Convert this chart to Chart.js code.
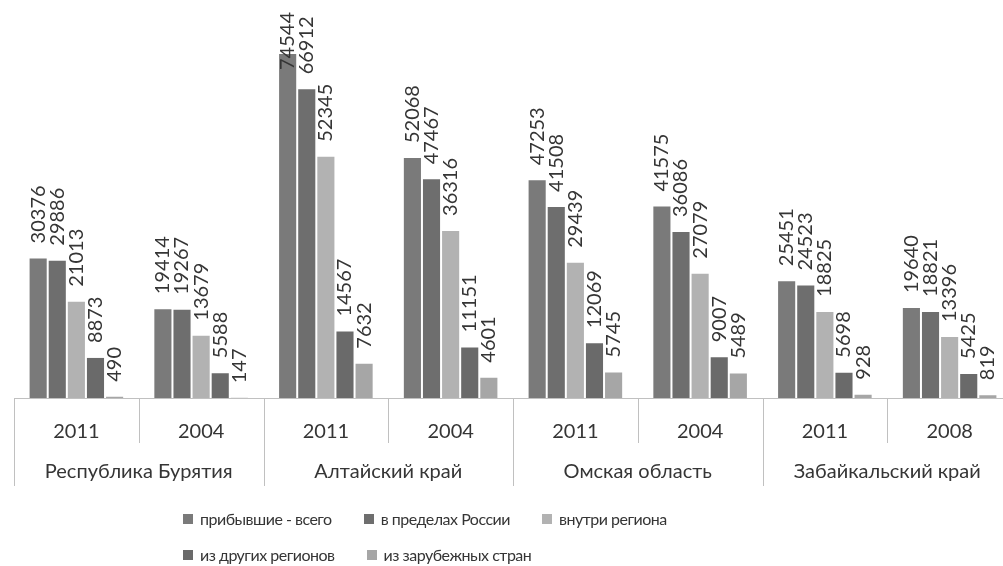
<!DOCTYPE html>
<html>
  <head>
    <script src="https://cdn.jsdelivr.net/npm/chart.js@4.4.1/dist/chart.umd.min.js"></script>
    <style>
      body { margin: 0; background: #fff; overflow: hidden; }
      #wrap { position: relative; width: 1003px; height: 566px; overflow: hidden; }
      #legend {
        position: absolute; left: 183px; top: 507px; width: 640px;
        display: flex; flex-wrap: wrap; column-gap: 32px; row-gap: 12px;
        font-family: Lato, sans-serif; font-size: 16px; letter-spacing: -0.5px; color: #353535;
      }
      #legend span.item { display: inline-flex; align-items: center; line-height: 24px; }
      #legend span.box { width: 10px; height: 10px; margin-right: 7px; display: inline-block; }
    </style>
  </head>
  <body>
    <div id="wrap">
      <canvas id="barChart" width="1012" height="566"></canvas>
      <div id="legend"></div>
    </div>
    <script>
      var regions = ['Республика Бурятия', 'Алтайский край', 'Омская область', 'Забайкальский край'];
      var years = ['2011', '2004', '2011', '2004', '2011', '2004', '2011', '2008'];
      var seriesNames = ['прибывшие - всего', 'в пределах России', 'внутри региона', 'из других регионов', 'из зарубежных стран'];
      var seriesColors = ['#7a7a7a', '#6e6e6e', '#b2b2b2', '#6a6a6a', '#a6a6a6'];

      var total    = [30376, 19414, 74544, 52068, 47253, 41575, 25451, 19640];
      var inRussia = [29886, 19267, 66912, 47467, 41508, 36086, 24523, 18821];
      var inRegion = [21013, 13679, 52345, 36316, 29439, 27079, 18825, 13396];
      var fromOther = [8873, 5588, 14567, 11151, 12069, 9007, 5698, 5425];
      var fromAbroad = [490, 147, 7632, 4601, 5745, 5489, 928, 819];

      var seriesData = [total, inRussia, inRegion, fromOther, fromAbroad];
      var textColor = '#353535';
      var lineColor = '#c0c0c0';
      var font = 'Lato, sans-serif';

      // vertical value labels over each bar
      var barLabels = {
        id: 'barLabels',
        afterDatasetsDraw: function(chart) {
          var ctx = chart.ctx;
          ctx.save();
          ctx.font = '20px ' + font;
          ctx.fillStyle = textColor;
          ctx.textAlign = 'left';
          ctx.textBaseline = 'middle';
          chart.data.datasets.forEach(function(ds, i) {
            chart.getDatasetMeta(i).data.forEach(function(bar, j) {
              var txt = String(ds.data[j]);
              var w = ctx.measureText(txt).width;
              var start = bar.y - 14;
              if (start - w < 12) start = 12 + w;
              ctx.save();
              ctx.translate(bar.x, start);
              ctx.rotate(-Math.PI / 2);
              ctx.fillText(txt, 0, 0);
              ctx.restore();
            });
          });
          ctx.restore();
        }
      };

      // two-level category axis: separators and region names
      var groupAxis = {
        id: 'groupAxis',
        afterDraw: function(chart) {
          var ctx = chart.ctx;
          var x = chart.scales.x;
          var top = x.top;
          var n = years.length;
          var step = x.width / n;
          ctx.save();
          ctx.strokeStyle = lineColor;
          ctx.lineWidth = 1;
          ctx.beginPath();
          ctx.moveTo(x.left, top + 0.5);
          ctx.lineTo(x.right, top + 0.5);
          for (var k = 0; k <= n; k++) {
            var px = Math.round(x.left + k * step) + 0.5;
            var len = (k % 2 === 0) ? 88 : 45;
            ctx.moveTo(px, top);
            ctx.lineTo(px, top + len);
          }
          ctx.stroke();
          ctx.font = '20px ' + font;
          ctx.fillStyle = textColor;
          ctx.textAlign = 'center';
          ctx.textBaseline = 'alphabetic';
          regions.forEach(function(r, i) {
            var cx = (x.getPixelForValue(2 * i) + x.getPixelForValue(2 * i + 1)) / 2;
            ctx.fillText(r, cx, top + 80);
          });
          ctx.restore();
        }
      };

      var ctx = document.getElementById('barChart').getContext('2d');
      var chart = new Chart(ctx, {
        type: 'bar',
        data: {
          labels: years,
          datasets: seriesNames.map(function(name, i) {
            return {
              label: name,
              data: seriesData[i],
              backgroundColor: seriesColors[i],
              borderColor: 'rgba(255,255,255,0.15)',
              borderWidth: 1,
              barPercentage: 1,
              categoryPercentage: 0.766
            };
          })
        },
        options: {
          responsive: false,
          animation: false,
          layout: { padding: { left: 14, right: 0, top: 0, bottom: 78 } },
          plugins: {
            legend: { display: false },
            tooltip: { enabled: false }
          },
          scales: {
            x: {
              grid: { display: false },
              border: { display: false },
              ticks: { color: textColor, font: { family: font, size: 20 }, padding: 14, maxRotation: 0 },
              afterFit: function(scale) { scale.height = 90; }
            },
            y: {
              display: false,
              min: 0,
              max: 86000
            }
          }
        },
        plugins: [barLabels, groupAxis]
      });

      var legend = document.getElementById('legend');
      seriesNames.forEach(function(name, i) {
        legend.innerHTML += '<span class="item"><span class="box" style="background:' + seriesColors[i] + '"></span>' + name + '</span>';
      });
    </script>
  </body>
</html>
